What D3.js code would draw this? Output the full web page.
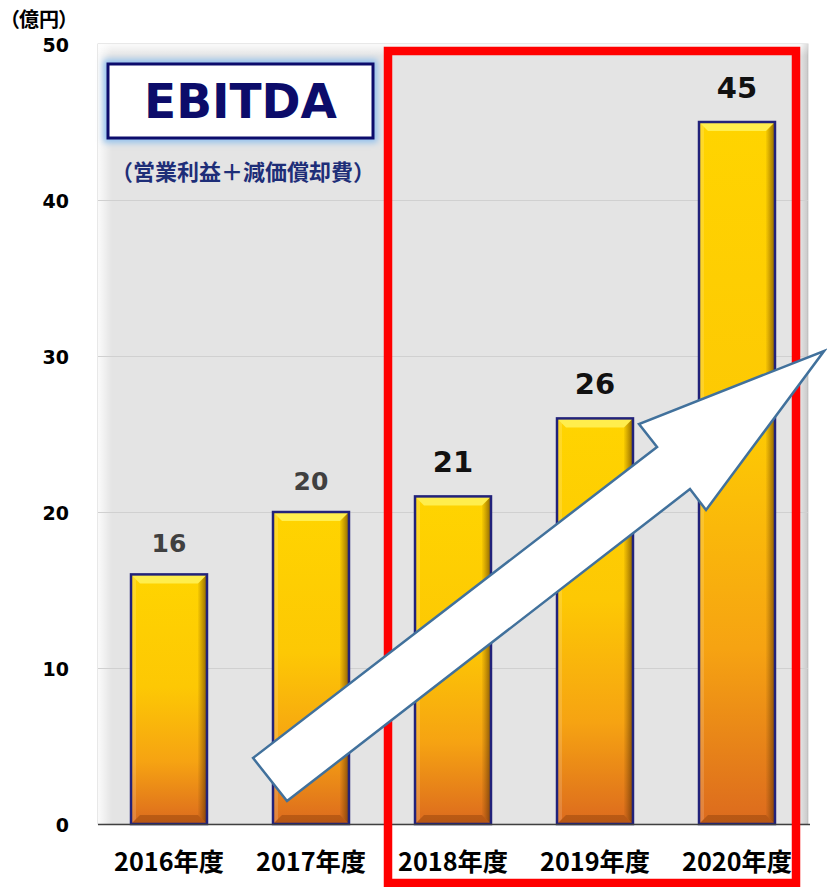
<!DOCTYPE html>
<html><head><meta charset="utf-8">
<script src="https://cdn.jsdelivr.net/npm/d3@7"></script>
<style>html,body{margin:0;padding:0;background:#fff;}svg{display:block;}</style>
</head><body>
<svg id="chart" width="827" height="887"></svg>
<script>
// ---- data ----
const categories = ["2016年度", "2017年度", "2018年度", "2019年度", "2020年度"];
const values = [16, 20, 21, 26, 45];
const highlighted = [false, false, true, true, true];
const yTicks = [0, 10, 20, 30, 40, 50];
const unitLabel = "（億円）";
const titleText = "EBITDA";
const subtitleText = "（営業利益＋減価償却費）";
// arrow annotation in data space: [category position, value]
const arrowPoints = [[1.092, 4.23], [3.937, 24.17], [3.810, 25.64], [5.113, 30.32], [4.282, 20.13], [4.169, 21.47], [1.331, 1.47]];

const W = 827, H = 887;
const plot = {left: 98, right: 808, top: 44, bottom: 824};
const svg = d3.select("#chart");
const defs = svg.append("defs");

const x = d3.scaleBand().domain(categories).range([plot.left, plot.right]).paddingInner(0.465).paddingOuter(0.2325);
const xPos = d3.scaleLinear().domain([0, categories.length]).range([plot.left, plot.right]);
const y = d3.scaleLinear().domain([0, 50]).range([plot.bottom, plot.top]);

// gradients
const barGrad = defs.append("linearGradient").attr("id", "barGrad").attr("x1", 0).attr("y1", 0).attr("x2", 0).attr("y2", 1);
[[0, "#ffd400"], [0.45, "#fdc804"], [0.75, "#f6a312"], [1, "#dc6a1e"]].forEach(s => barGrad.append("stop").attr("offset", s[0]).attr("stop-color", s[1]));
const rightGrad = defs.append("linearGradient").attr("id", "rightGrad").attr("x1", 0).attr("y1", 0).attr("x2", 1).attr("y2", 0);
rightGrad.append("stop").attr("offset", 0).attr("stop-color", "#6a3c00").attr("stop-opacity", 0.05);
rightGrad.append("stop").attr("offset", 1).attr("stop-color", "#4a2800").attr("stop-opacity", 0.65);
const leftEdge = defs.append("linearGradient").attr("id", "leftEdge").attr("x1", 0).attr("y1", 0).attr("x2", 1).attr("y2", 0);
leftEdge.append("stop").attr("offset", 0).attr("stop-color", "#ffffff").attr("stop-opacity", 0.85);
leftEdge.append("stop").attr("offset", 1).attr("stop-color", "#ffffff").attr("stop-opacity", 0);
const topEdge = defs.append("linearGradient").attr("id", "topEdge").attr("x1", 0).attr("y1", 0).attr("x2", 0).attr("y2", 1);
topEdge.append("stop").attr("offset", 0).attr("stop-color", "#ffffff").attr("stop-opacity", 0.85);
topEdge.append("stop").attr("offset", 1).attr("stop-color", "#ffffff").attr("stop-opacity", 0);
const rightEdge = defs.append("linearGradient").attr("id", "rightEdge").attr("x1", 0).attr("y1", 0).attr("x2", 1).attr("y2", 0);
rightEdge.append("stop").attr("offset", 0).attr("stop-color", "#000").attr("stop-opacity", 0);
rightEdge.append("stop").attr("offset", 1).attr("stop-color", "#000").attr("stop-opacity", 0.12);
const glow = defs.append("filter").attr("id", "glow").attr("x", "-20%").attr("y", "-40%").attr("width", "140%").attr("height", "180%");
glow.append("feGaussianBlur").attr("stdDeviation", 3);

// plot background
svg.append("rect").attr("x", plot.left).attr("y", plot.top).attr("width", plot.right - plot.left).attr("height", plot.bottom - plot.top)
  .attr("fill", "#e4e4e4").attr("stroke", "#d2d2d2").attr("stroke-width", 1);
svg.append("rect").attr("x", plot.left).attr("y", plot.top).attr("width", 14).attr("height", plot.bottom - plot.top).attr("fill", "url(#leftEdge)");
svg.append("rect").attr("x", plot.left).attr("y", plot.top).attr("width", plot.right - plot.left).attr("height", 12).attr("fill", "url(#topEdge)");
svg.append("rect").attr("x", plot.right - 8).attr("y", plot.top).attr("width", 8).attr("height", plot.bottom - plot.top).attr("fill", "url(#rightEdge)");

// gridlines
svg.append("g").selectAll("line").data(yTicks.filter(t => t > 0 && t < 50)).join("line")
  .attr("x1", plot.left).attr("x2", plot.right).attr("y1", d => y(d) + 0.5).attr("y2", d => y(d) + 0.5)
  .attr("stroke", "#d0d0d0").attr("stroke-width", 1);

// bars
const b = 9;
const bars = svg.append("g").selectAll("g").data(categories.map((c, i) => ({c, v: values[i], h: highlighted[i]}))).join("g");
bars.each(function(d) {
  const g = d3.select(this);
  const x0 = x(d.c), x1 = x(d.c) + x.bandwidth(), y0 = y(d.v), y1 = y(0);
  g.append("rect").attr("x", x0).attr("y", y0).attr("width", x1 - x0).attr("height", y1 - y0).attr("fill", "url(#barGrad)");
  g.append("polygon").attr("points", [[x0, y0], [x1, y0], [x1 - b, y0 + b], [x0 + b, y0 + b]].join(" ")).attr("fill", "#fff25a").attr("opacity", 0.85);
  g.append("polygon").attr("points", [[x1, y0], [x1, y1], [x1 - b, y1 - b], [x1 - b, y0 + b]].join(" ")).attr("fill", "url(#rightGrad)");
  g.append("polygon").attr("points", [[x0, y1], [x1, y1], [x1 - b, y1 - b], [x0 + b, y1 - b]].join(" ")).attr("fill", "#5a2400").attr("opacity", 0.28);
  g.append("polygon").attr("points", [[x0, y0], [x0 + 5, y0 + 5], [x0 + 5, y1 - 5], [x0, y1]].join(" ")).attr("fill", "#fff").attr("opacity", 0.15);
  g.append("rect").attr("x", x0).attr("y", y0).attr("width", x1 - x0).attr("height", y1 - y0)
    .attr("fill", "none").attr("stroke", "#22227a").attr("stroke-width", 2.5);
  g.append("text").attr("x", x0 + x.bandwidth() / 2).attr("y", y0 - (d.h ? 24 : 22))
    .attr("text-anchor", "middle").attr("font-family", "DejaVu Sans, Verdana, sans-serif").attr("font-weight", "bold")
    .attr("font-size", d.h ? 29 : 25).attr("fill", d.h ? "#111" : "#404040").text(d.v);
});

// x axis line
svg.append("line").attr("x1", plot.left).attr("x2", plot.right + 2).attr("y1", plot.bottom + 0.5).attr("y2", plot.bottom + 0.5)
  .attr("stroke", "#404040").attr("stroke-width", 1.5);

// x labels
svg.append("g").selectAll("text").data(categories).join("text")
  .attr("x", d => x(d) + x.bandwidth() / 2).attr("y", 871).attr("text-anchor", "middle")
  .attr("font-family", "Noto Sans CJK JP, sans-serif").attr("font-weight", "bold").attr("font-size", 25)
  .attr("fill", "#000").attr("textLength", 110).attr("lengthAdjust", "spacingAndGlyphs").text(d => d);

// y tick labels
svg.append("g").selectAll("text").data(yTicks).join("text")
  .attr("x", 69).attr("y", d => y(d) + 8).attr("text-anchor", "end")
  .attr("font-family", "DejaVu Sans, Verdana, sans-serif").attr("font-weight", "bold").attr("font-size", 19)
  .attr("fill", "#000").text(d => d);
svg.append("text").attr("x", 9).attr("y", 27).attr("font-family", "Noto Sans CJK JP, sans-serif").attr("font-weight", "bold")
  .attr("font-size", 20).attr("fill", "#000").style("font-feature-settings", "'palt'").text(unitLabel);

// title box
const bx = 108, by = 64, bw = 265, bh = 74;
svg.append("rect").attr("x", bx).attr("y", by).attr("width", bw).attr("height", bh).attr("fill", "none")
  .attr("stroke", "#8fc0ee").attr("stroke-width", 9).attr("filter", "url(#glow)");
svg.append("rect").attr("x", bx).attr("y", by).attr("width", bw).attr("height", bh).attr("fill", "#fff")
  .attr("stroke", "#0c0c6c").attr("stroke-width", 3);
svg.append("text").attr("x", bx + bw / 2).attr("y", by + bh / 2 + 17).attr("text-anchor", "middle")
  .attr("font-family", "DejaVu Sans, Verdana, sans-serif").attr("font-weight", "bold").attr("font-size", 48)
  .attr("fill", "#0c0c6a").attr("textLength", 193).attr("lengthAdjust", "spacingAndGlyphs").text(titleText);
svg.append("text").attr("x", 111).attr("y", 180).attr("font-family", "Noto Sans CJK JP, sans-serif").attr("font-weight", "bold")
  .attr("font-size", 22).attr("fill", "#1e2e78").attr("textLength", 264).attr("lengthAdjust", "spacingAndGlyphs").text(subtitleText);

// highlight rectangle around 2018-2020
const hiCats = categories.filter((c, i) => highlighted[i]);
const hx0 = x(hiCats[0]) - (x.step() - x.bandwidth()) / 2 + 6;
const hx1 = plot.right - 12;
svg.append("rect").attr("x", hx0).attr("y", y(50) + 7).attr("width", hx1 - hx0).attr("height", H - 4 - (y(50) + 7))
  .attr("fill", "none").attr("stroke", "#ff0000").attr("stroke-width", 8.5);

// arrow
svg.append("path").attr("d", d3.line().x(p => xPos(p[0])).y(p => y(p[1]))(arrowPoints) + "Z")
  .attr("fill", "#ffffff").attr("stroke", "#41719c").attr("stroke-width", 2.5).attr("stroke-linejoin", "miter");
</script>
</body></html>
